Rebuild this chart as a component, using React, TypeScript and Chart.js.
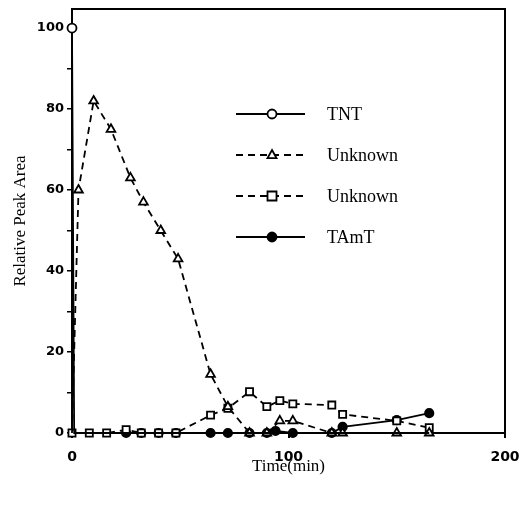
import React, { useEffect, useRef } from 'react';
import { Chart, registerables } from 'chart.js';

Chart.register(...registerables);

// ---- Data ----
const TNT_TIME = [0, 1, 165];
const TNT_AREA = [100, 0, 0];

const UNK1_TIME = [0, 3, 10, 18, 27, 33, 41, 49, 64, 72, 82, 90, 96, 102, 120, 125, 150, 165];
const UNK1_AREA = [0, 60, 82, 75, 63, 57, 50, 43, 14.5, 6.5, 0, 0, 3, 3, 0, 0, 0, 0];

const UNK2_TIME = [0, 8, 16, 25, 32, 40, 48, 64, 72, 82, 90, 96, 102, 120, 125, 150, 165];
const UNK2_AREA = [0, 0, 0, 0.8, 0, 0, 0, 4.4, 6.1, 10.2, 6.5, 8, 7.2, 6.9, 4.6, 3.0, 1.3];

const TAMT_TIME = [25, 32, 40, 48, 64, 72, 82, 90, 94, 102, 120, 125, 150, 165];
const TAMT_AREA = [0, 0, 0, 0, 0, 0, 0, 0, 0.5, 0, 0, 1.5, 3.2, 4.9];

const SERIES_LABELS = ['TNT', 'Unknown', 'Unknown', 'TAmT'];
const X_TICKS = [0, 100, 200];
const Y_TICKS = [0, 10, 20, 30, 40, 50, 60, 70, 80, 90, 100];
const Y_LABELED = [0, 20, 40, 60, 80, 100];
const X_TITLE = 'Time(min)';
const Y_TITLE = 'Relative Peak Area';

const toPts = (xs: number[], ys: number[]) => xs.map((x, i) => ({ x, y: ys[i] }));

const SERIF = '"Liberation Serif", "Times New Roman", serif';
const SANS_BOLD = '"DejaVu Sans", sans-serif';

function drawMarker(ctx: CanvasRenderingContext2D, style: string, x: number, y: number, r: number, fill: string) {
  ctx.beginPath();
  if (style === 'circle') {
    ctx.arc(x, y, r, 0, Math.PI * 2);
  } else if (style === 'triangle') {
    ctx.moveTo(x, y - r * 1.1);
    ctx.lineTo(x + r, y + r * 0.7);
    ctx.lineTo(x - r, y + r * 0.7);
    ctx.closePath();
  } else {
    ctx.rect(x - r, y - r, r * 2, r * 2);
  }
  ctx.fillStyle = fill;
  ctx.fill();
  ctx.setLineDash([]);
  ctx.stroke();
}

const framePlugin = {
  id: 'frame',
  beforeDatasetsDraw(chart: any) {
    const { ctx, chartArea: a } = chart;
    ctx.save();
    ctx.strokeStyle = '#000';
    ctx.lineWidth = 2;
    ctx.setLineDash([]);
    ctx.strokeRect(a.left, a.top, a.right - a.left, a.bottom - a.top);
    ctx.restore();
  },
};

const legendPlugin = {
  id: 'insideLegend',
  afterDatasetsDraw(chart: any) {
    const ctx = chart.ctx as CanvasRenderingContext2D;
    const x0 = 236, x1 = 305, xm = 272, xt = 327, y0 = 114, dy = 41;
    ctx.save();
    chart.data.datasets.forEach((ds: any, i: number) => {
      const y = y0 + i * dy;
      ctx.strokeStyle = '#000';
      ctx.lineWidth = 1.8;
      ctx.setLineDash(ds.borderDash || []);
      ctx.beginPath();
      ctx.moveTo(x0, y);
      ctx.lineTo(x1, y);
      ctx.stroke();
      ctx.lineWidth = 1.8;
      drawMarker(ctx, ds.pointStyle, xm, y, 4.5, ds.pointBackgroundColor);
      ctx.fillStyle = '#000';
      ctx.font = `18px ${SERIF}`;
      ctx.textBaseline = 'middle';
      ctx.textAlign = 'left';
      ctx.fillText(ds.label, xt, y + 1);
    });
    ctx.restore();
  },
};

export default function App() {
  const ref = useRef<HTMLCanvasElement | null>(null);

  useEffect(() => {
    if (!ref.current) return;
    const common = {
      borderColor: '#000',
      pointBorderColor: '#000',
      borderWidth: 1.8,
      pointBorderWidth: 1.8,
      tension: 0,
      clip: false as const,
      fill: false,
    };
    const chart = new Chart(ref.current, {
      type: 'line',
      data: {
        datasets: [
          {
            ...common,
            label: SERIES_LABELS[0],
            data: toPts(TNT_TIME, TNT_AREA),
            pointStyle: 'circle',
            pointBackgroundColor: '#fff',
            pointRadius: TNT_TIME.map((_, i) => (i === 0 ? 4.5 : 0)),
            borderDash: [],
          },
          {
            ...common,
            label: SERIES_LABELS[1],
            data: toPts(UNK1_TIME, UNK1_AREA),
            pointStyle: 'triangle',
            pointBackgroundColor: '#fff',
            pointRadius: UNK1_TIME.map((_, i) => (i === 0 ? 0 : 5)),
            borderDash: [7, 5],
          },
          {
            ...common,
            label: SERIES_LABELS[2],
            data: toPts(UNK2_TIME, UNK2_AREA),
            pointStyle: 'rect',
            pointBackgroundColor: '#fff',
            pointRadius: 5,
            borderDash: [7, 5],
          },
          {
            ...common,
            label: SERIES_LABELS[3],
            data: toPts(TAMT_TIME, TAMT_AREA),
            pointStyle: 'circle',
            pointBackgroundColor: '#000',
            pointRadius: 4.2,
            borderDash: [],
          },
        ],
      },
      options: {
        responsive: false,
        animation: false,
        events: [],
        layout: { padding: 0 },
        plugins: { legend: { display: false }, tooltip: { enabled: false }, title: { display: false } },
        scales: {
          x: {
            type: 'linear',
            min: 0,
            max: 200,
            afterBuildTicks: (s: any) => { s.ticks = X_TICKS.map((v) => ({ value: v })); },
            afterFit: (s: any) => { s.height = 73; s.paddingLeft = 0; s.paddingRight = 15; },
            ticks: {
              color: '#000',
              font: { family: SANS_BOLD, weight: 'bold', size: 14 },
              padding: 11,
              maxRotation: 0,
              autoSkip: false,
            },
            grid: { display: true, drawOnChartArea: false, drawTicks: true, tickLength: 5, color: '#000', lineWidth: 2 },
            border: { display: false },
            title: {
              display: true,
              text: X_TITLE,
              color: '#000',
              font: { family: SERIF, size: 17 },
              padding: { top: 0, bottom: 29 },
            },
          },
          y: {
            type: 'linear',
            min: 0,
            max: 104.7,
            afterBuildTicks: (s: any) => { s.ticks = Y_TICKS.map((v) => ({ value: v })); },
            afterFit: (s: any) => { s.width = 72; s.paddingTop = 9; s.paddingBottom = 0; },
            ticks: {
              color: '#000',
              font: { family: SANS_BOLD, weight: 'bold', size: 13 },
              padding: 3,
              autoSkip: false,
              callback: (v: any) => (Y_LABELED.includes(Number(v)) ? String(v) : ''),
            },
            grid: { display: true, drawOnChartArea: false, drawTicks: true, tickLength: 5, color: '#000', lineWidth: 1.5 },
            border: { display: false },
            title: {
              display: true,
              text: Y_TITLE,
              color: '#000',
              font: { family: SERIF, size: 17 },
              padding: { top: 10, bottom: 0 },
            },
          },
        },
      },
      plugins: [framePlugin, legendPlugin],
    } as any);
    return () => chart.destroy();
  }, []);

  return (
    <div style={{ position: 'fixed', left: 0, top: 0, width: 520, height: 506, background: '#fff' }}>
      <canvas ref={ref} width={520} height={506} style={{ display: 'block' }} />
    </div>
  );
}
